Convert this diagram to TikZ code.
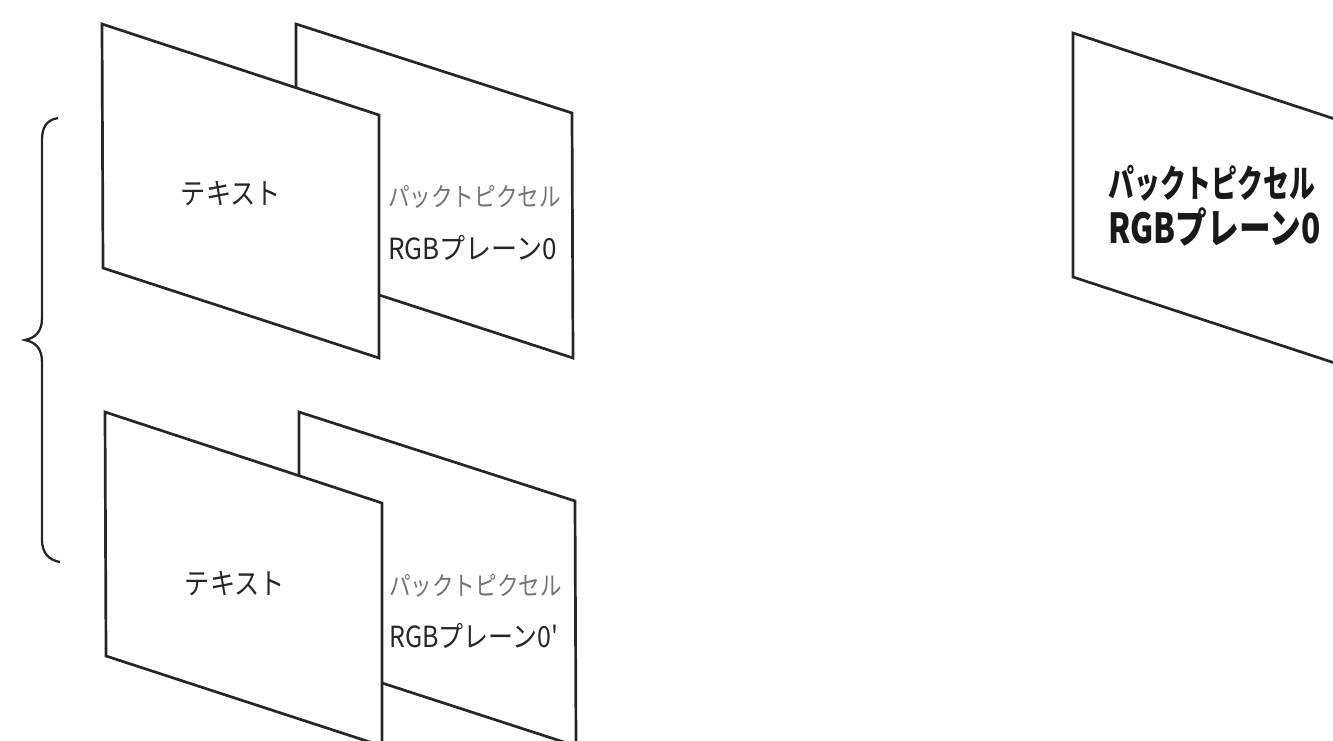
\documentclass[tikz,border=0pt]{standalone}
\usepackage{fontspec}
\newfontfamily\jp{Noto Sans CJK JP}
\begin{document}
\begin{tikzpicture}[x=1pt,y=-1pt,
  plane/.style={draw=black!85,line width=2.7pt,fill=white},
  txt/.style={inner sep=0pt,text=black!85,font=\jp\fontsize{28}{30}\selectfont},
  small/.style={inner sep=0pt,anchor=west,text=black!85,font=\jp\fontsize{26}{28}\selectfont},
  big/.style={inner sep=0pt,anchor=west,text=black!90,font=\jp\bfseries\fontsize{36}{40}\selectfont}]
\useasboundingbox (0,0) rectangle (1333,740);
\clip (0,0) rectangle (1333,740);
% upper pair
\draw[plane] (296,24) -- (572,113) -- (573,358) -- (296,268) -- cycle;
\draw[plane] (102,24) -- (379,115) -- (379,358) -- (103,268) -- cycle;
\node[txt] (text1) at (231,194) {\scalebox{0.9}[1.05]{テキスト}};
\node[small,text=black!55] (pack1) at (388,197) {\scalebox{0.83}[1]{パックトピクセル}};
\node[small] (rgb1) at (388,248) {\scalebox{1.0}[1.12]{RGBプレーン0}};
% lower pair
\draw[plane] (299,412) -- (575,501) -- (576,746) -- (299,656) -- cycle;
\draw[plane] (105,412) -- (382,503) -- (382,746) -- (106,656) -- cycle;
\node[txt] (text2) at (235,584) {\scalebox{0.9}[1.05]{テキスト}};
\node[small,text=black!55] (pack2) at (389,586) {\scalebox{0.83}[1]{パックトピクセル}};
\node[small] (rgb2) at (389,636) {\scalebox{0.96}[1.12]{RGBプレーン0'}};
% brace
\draw[black!85,line width=2.3pt] (58,118) .. controls (46,120) and (42,128) .. (42,140)
  -- (42,318) .. controls (42,332) and (35,338) .. (25,340)
  .. controls (35,342) and (42,348) .. (42,362)
  -- (42,540) .. controls (42,552) and (48,560) .. (60,562);
% right plane
\draw[plane] (1073,33) -- (1350,124) -- (1350,368) -- (1073,277) -- cycle;
\node[big] (pack3) at (1108,183) {\scalebox{0.72}[1.05]{パックトピクセル}};
\node[big] (rgb3) at (1108,227) {\scalebox{0.88}[1.15]{RGBプレーン0}};
\end{tikzpicture}
\end{document}
